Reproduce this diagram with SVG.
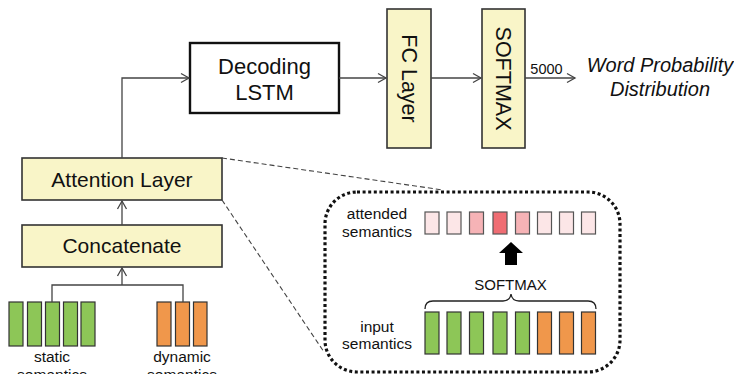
<svg xmlns="http://www.w3.org/2000/svg" width="734" height="374" viewBox="0 0 734 374">
<style>
.t{font-family:"Liberation Sans",Arial,sans-serif;fill:#111}
.box{fill:#f9f5c8;stroke:#333;stroke-width:1.6}
.c{fill:none;stroke:#444;stroke-width:1.3}
.g{fill:#8dc657;stroke:#333;stroke-width:1.2}
.o{fill:#f0974b;stroke:#333;stroke-width:1.2}
.a1{fill:#fce6e7;stroke:#555;stroke-width:1.2}
.a2{fill:#f6b3b6;stroke:#555;stroke-width:1.2}
.a3{fill:#ef6d73;stroke:#555;stroke-width:1.2}
.d{fill:none;stroke:#444;stroke-width:1.1;stroke-dasharray:5 3}
</style>
<defs>
<marker id="arr" markerWidth="12" markerHeight="12" refX="10" refY="6" orient="auto" markerUnits="userSpaceOnUse">
<path d="M2,1.5 L10,6 L2,10.5" fill="none" stroke="#444" stroke-width="1.3"/>
</marker>
</defs>

<g id="decoding-lstm">
<rect x="190" y="43" width="149" height="70" fill="#fff" stroke="#111" stroke-width="2.4"/>
<text class="t" x="264.5" y="74" font-size="22" text-anchor="middle">Decoding</text>
<text class="t" x="264.5" y="100" font-size="22" text-anchor="middle">LSTM</text>
</g>

<g id="fc-layer">
<rect class="box" x="387" y="9" width="44" height="139"/>
<text class="t" transform="translate(409,78.5) rotate(90)" x="0" y="7.5" font-size="21.5" text-anchor="middle">FC Layer</text>
</g>

<g id="softmax">
<rect class="box" x="482" y="9" width="43" height="139"/>
<text class="t" transform="translate(503.5,78.5) rotate(90)" x="0" y="7.5" font-size="21.5" text-anchor="middle">SOFTMAX</text>
</g>

<g id="output">
<text class="t" x="546.5" y="74" font-size="14.5" text-anchor="middle">5000</text>
<text class="t" x="660" y="72" font-size="20" font-style="italic" text-anchor="middle">Word Probability</text>
<text class="t" x="660" y="96" font-size="20" font-style="italic" text-anchor="middle">Distribution</text>
</g>

<g id="attention-layer">
<rect class="box" x="22" y="158" width="200" height="42"/>
<text class="t" x="122" y="187" font-size="21" text-anchor="middle">Attention Layer</text>
</g>

<g id="concatenate">
<rect class="box" x="22" y="225" width="200" height="42"/>
<text class="t" x="122" y="253" font-size="21" text-anchor="middle">Concatenate</text>
</g>

<g id="static-semantics">
<rect class="g" x="9" y="302" width="14" height="44"/>
<rect class="g" x="27.5" y="302" width="14" height="44"/>
<rect class="g" x="45.5" y="302" width="14" height="44"/>
<rect class="g" x="63.5" y="302" width="14" height="44"/>
<rect class="g" x="81" y="302" width="14" height="44"/>
<text class="t" x="52" y="362" font-size="15.5" text-anchor="middle">static</text>
<text class="t" x="52" y="380" font-size="15.5" text-anchor="middle">semantics</text>
</g>

<g id="dynamic-semantics">
<rect class="o" x="157" y="302" width="14" height="44"/>
<rect class="o" x="175.5" y="302" width="14" height="44"/>
<rect class="o" x="193.5" y="302" width="13.5" height="44"/>
<text class="t" x="182" y="362" font-size="15.5" text-anchor="middle">dynamic</text>
<text class="t" x="182" y="380" font-size="15.5" text-anchor="middle">semantics</text>
</g>

<g id="attention-detail">
<rect x="325" y="192" width="295" height="180" rx="32" ry="32" fill="none" stroke="#111" stroke-width="3.2" stroke-dasharray="3 2.6"/>
<text class="t" x="377" y="219" font-size="15.5" text-anchor="middle">attended</text>
<text class="t" x="377" y="237" font-size="15.5" text-anchor="middle">semantics</text>
<text class="t" x="377" y="332" font-size="15.5" text-anchor="middle">input</text>
<text class="t" x="377" y="349" font-size="15.5" text-anchor="middle">semantics</text>
<rect class="a1" x="425" y="212" width="14" height="22"/>
<rect class="a1" x="447" y="212" width="14" height="22"/>
<rect class="a2" x="469.5" y="212" width="14" height="22"/>
<rect class="a3" x="493" y="212" width="14" height="22"/>
<rect class="a2" x="515.5" y="212" width="14" height="22"/>
<rect class="a1" x="537.5" y="212" width="14" height="22"/>
<rect class="a1" x="559.5" y="212" width="14" height="22"/>
<rect class="a1" x="581.5" y="212" width="14" height="22"/>
<path d="M511,242 L523,253 L517,253 L517,265 L505,265 L505,253 L499,253 Z" fill="#000"/>
<text class="t" x="510.5" y="290" font-size="15" text-anchor="middle">SOFTMAX</text>
<path d="M425,309 Q425,301 433,301 L503,301 Q510,301 511,294 Q512,301 519,301 L588,301 Q596,301 596,309" fill="none" stroke="#222" stroke-width="1.3"/>
<rect class="g" x="425" y="312" width="14" height="42"/>
<rect class="g" x="447" y="312" width="14" height="42"/>
<rect class="g" x="469.5" y="312" width="14" height="42"/>
<rect class="g" x="493" y="312" width="14" height="42"/>
<rect class="g" x="515.5" y="312" width="14" height="42"/>
<rect class="o" x="537.5" y="312" width="14" height="42"/>
<rect class="o" x="559.5" y="312" width="14" height="42"/>
<rect class="o" x="581.5" y="312" width="14" height="42"/>
</g>

<g id="connectors">
<path class="c" d="M122,158 L122,78 L189,78" marker-end="url(#arr)"/>
<path class="c" d="M339,78 L386,78" marker-end="url(#arr)"/>
<path class="c" d="M431,78 L481,78" marker-end="url(#arr)"/>
<path class="c" d="M525,78 L575,78" marker-end="url(#arr)"/>
<path class="c" d="M122,225 L122,201" marker-end="url(#arr)"/>
<path class="c" d="M52,302 L52,285 L183,285 L183,302"/>
<path class="c" d="M122,285 L122,268" marker-end="url(#arr)"/>
<path class="d" d="M222,158 L443,190"/>
<path class="d" d="M222,200 L324,352"/>
</g>
</svg>
